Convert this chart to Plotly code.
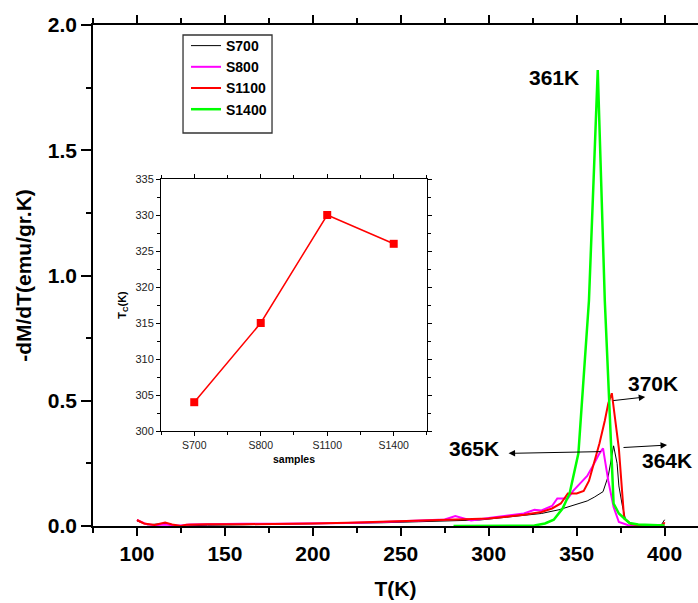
import plotly.graph_objects as go

# ---------------- data ----------------
T_S700 = [100, 106, 116, 125, 140, 160, 180, 200, 220, 240, 260, 280, 295, 310, 320, 330, 340, 350,
          356, 360, 365, 368, 371, 373, 374, 376, 378, 382, 390, 398, 400]
V_S700 = [0.02, 0.005, 0.01, 0.0, 0.003, 0.005, 0.006, 0.008, 0.010, 0.013, 0.017, 0.020, 0.024, 0.035,
          0.042, 0.050, 0.065, 0.085, 0.10, 0.115, 0.137, 0.20, 0.32, 0.25, 0.16, 0.08, 0.02, 0.005,
          0.003, 0.003, 0.025]

T_S800 = [100, 105, 110, 116, 120, 125, 130, 145, 160, 180, 200, 220, 240, 260, 275, 281, 286, 290,
          300, 310, 320, 326, 330, 336, 339, 345, 348, 352, 356, 360, 363, 365, 368, 371, 374, 379,
          385, 390, 395, 400]
V_S800 = [0.024, 0.008, 0.003, 0.006, 0.003, 0.002, 0.006, 0.009, 0.009, 0.009, 0.010, 0.012, 0.016,
          0.022, 0.026, 0.040, 0.030, 0.022, 0.032, 0.042, 0.050, 0.065, 0.062, 0.080, 0.11, 0.11,
          0.14, 0.17, 0.20, 0.25, 0.29, 0.31, 0.18, 0.076, 0.016, 0.004, 0.002, 0.002, 0.002, 0.002]

T_S1100 = [100, 104, 110, 116, 120, 125, 128, 140, 160, 180, 200, 220, 240, 260, 275, 290, 300, 310,
           320, 330, 336, 341, 345, 350, 354, 357, 360, 363, 366, 368, 370, 372, 374, 377, 381, 385,
           390, 395, 399, 400]
V_S1100 = [0.024, 0.010, 0.004, 0.014, 0.006, 0.0, 0.005, 0.007, 0.007, 0.008, 0.010, 0.013, 0.017,
           0.020, 0.022, 0.026, 0.030, 0.037, 0.045, 0.056, 0.070, 0.090, 0.13, 0.13, 0.14, 0.18,
           0.25, 0.33, 0.42, 0.49, 0.53, 0.43, 0.31, 0.03, 0.008, 0.004, 0.003, 0.003, 0.003, 0.015]

T_S1400 = [280, 300, 320, 326, 332, 337, 342, 346, 351, 354, 357, 360, 362, 364, 366, 368, 371, 374,
           377, 380, 385, 390, 395, 400]
V_S1400 = [0.0, 0.0, 0.0, 0.002, 0.010, 0.025, 0.07, 0.13, 0.29, 0.58, 0.90, 1.45, 1.82, 1.36, 0.90,
           0.58, 0.09, 0.05, 0.03, 0.012, 0.006, 0.004, 0.003, 0.002]

samples = ["S700", "S800", "S1100", "S1400"]
Tc = [304, 315, 330, 326]

y_ticks = [0.0, 0.5, 1.0, 1.5, 2.0]
x_ticks = [100, 150, 200, 250, 300, 350, 400]
inset_y_ticks = [300, 305, 310, 315, 320, 325, 330, 335]

FONT = "Arial, Liberation Sans, sans-serif"

fig = go.Figure()

series = [
    ("S700", T_S700, V_S700, "#000000", 1),
    ("S800", T_S800, V_S800, "#FF00FF", 2),
    ("S1100", T_S1100, V_S1100, "#FF0000", 2),
    ("S1400", T_S1400, V_S1400, "#00FF00", 2.5),
]
for name, t, v, c, w in series:
    fig.add_trace(go.Scatter(x=t, y=v, mode="lines", name=name,
                             line=dict(color=c, width=w), xaxis="x", yaxis="y"))

# inset
fig.add_trace(go.Scatter(x=list(range(len(samples))), y=Tc, mode="lines+markers",
                         line=dict(color="#FF0000", width=1.5),
                         marker=dict(symbol="square", size=8, color="#FF0000"),
                         showlegend=False, xaxis="x2", yaxis="y2"))

axis_common = dict(showline=True, linecolor="black", showgrid=False, zeroline=False,
                   ticks="outside", tickcolor="black", automargin=False)

fig.update_layout(
    width=698, height=603,
    margin=dict(l=93, r=0, t=25, b=77),
    paper_bgcolor="white", plot_bgcolor="white",
    font=dict(family=FONT, color="black"),
    xaxis=dict(**axis_common, range=[75, 419], tickvals=x_ticks, ticklen=8, tickwidth=1.5,
               linewidth=1.5, mirror="ticks",
               minor=dict(dtick=25, tick0=75, ticklen=5, ticks="outside", tickcolor="black"),
               tickfont=dict(size=21, family=FONT, weight="bold"),
               title=dict(text="<b>T(K)</b>", font=dict(size=21, family=FONT), standoff=17)),
    yaxis=dict(**axis_common, range=[0, 2], tickvals=y_ticks, tickformat=".1f", ticklen=10,
               tickwidth=1.5, linewidth=1.5,
               minor=dict(dtick=0.25, ticklen=5, ticks="outside", tickcolor="black"),
               tickfont=dict(size=21, family=FONT, weight="bold"),
               title=dict(text="<b>-dM/dT(emu/gr.K)</b>", font=dict(size=21, family=FONT), standoff=10)),
    xaxis2=dict(**axis_common, domain=[0.1124, 0.552], anchor="y2", range=[-0.5, 3.5],
                tickvals=list(range(len(samples))), ticktext=samples, ticklen=4, linewidth=1,
                mirror="ticks",
                minor=dict(dtick=0.5, tick0=-0.5, ticklen=3, ticks="outside", tickcolor="black"),
                tickfont=dict(size=10.5, family=FONT, color="#222"),
                title=dict(text="<b>samples</b>", font=dict(size=10.5, family=FONT), standoff=6)),
    yaxis2=dict(**axis_common, domain=[0.1896, 0.6926], anchor="x2", range=[300, 335],
                tickvals=inset_y_ticks, ticklen=4, linewidth=1, mirror="ticks",
                minor=dict(dtick=2.5, ticklen=3, ticks="outside", tickcolor="black"),
                tickfont=dict(size=11, family=FONT, color="#222"),
                title=dict(text="<b>T<sub>C</sub>(K)</b>", font=dict(size=11, family=FONT), standoff=6)),
    legend=dict(x=0.1537, y=0.99, xanchor="left", yanchor="top", bgcolor="rgba(0,0,0,0)",
                borderwidth=0, font=dict(size=14, family=FONT, weight="bold"),
                tracegroupgap=0),
    showlegend=True,
)

# legend frame
fig.add_shape(type="rect", xref="paper", yref="paper", x0=0.1488, x1=0.2959, y0=0.7844, y1=0.98,
              line=dict(color="#333", width=1.3), fillcolor="rgba(0,0,0,0)")

# peak labels
labels = [("361K", 337.2, 1.792), ("370K", 393.5, 0.57), ("365K", 291.7, 0.31), ("364K", 401.5, 0.263)]
for txt, x, y in labels:
    fig.add_annotation(x=x, y=y, xref="x", yref="y", text="<b>%s</b>" % txt, showarrow=False,
                       font=dict(size=21, family=FONT, color="black"))

# arrows (tail -> head)
arrows = [((370.0, 0.50), (389.0, 0.515)),
          ((364.5, 0.297), (311.3, 0.29)),
          ((375.8, 0.313), (401.4, 0.323))]
for (tx, ty), (hx, hy) in arrows:
    fig.add_annotation(x=hx, y=hy, ax=tx, ay=ty, xref="x", yref="y", axref="x", ayref="y",
                       text="", showarrow=True, arrowhead=2, arrowsize=1.3, arrowwidth=1,
                       arrowcolor="black")

fig.write_html("out.html", config={"displayModeBar": False},
               post_script="document.body.style.margin='0';document.body.style.overflow='hidden';")
